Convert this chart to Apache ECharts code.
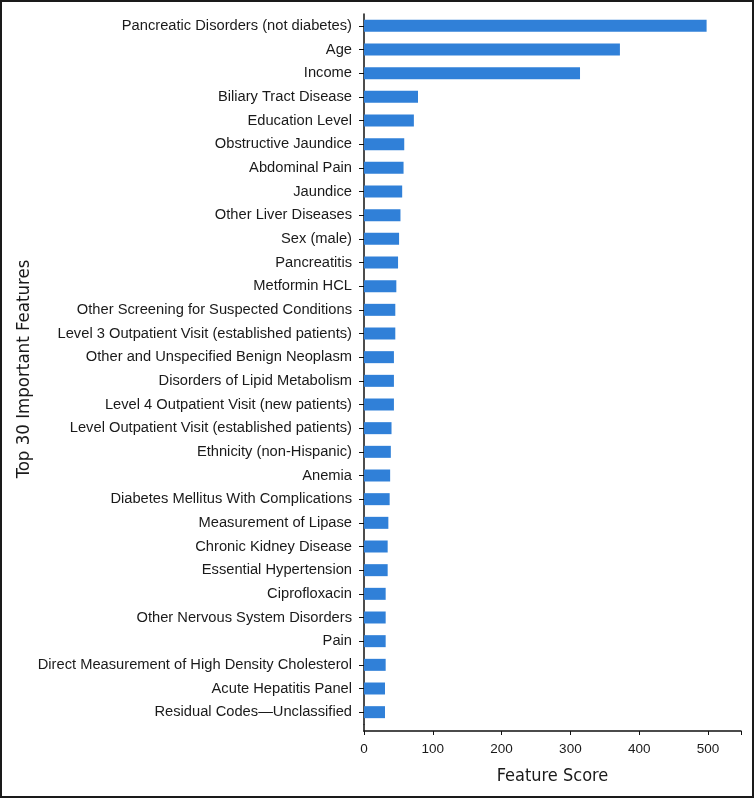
<!DOCTYPE html>
<html>
<head>
<meta charset="utf-8">
<script src="https://cdn.jsdelivr.net/npm/echarts@6/dist/echarts.min.js"></script>
<style>
html,body{margin:0;padding:0;background:#fff;}
#c{width:754px;height:798px;}
</style>
</head>
<body>
<div id="c"></div>
<script>
const categories = [
  "Pancreatic Disorders (not diabetes)",
  "Age",
  "Income",
  "Biliary Tract Disease",
  "Education Level",
  "Obstructive Jaundice",
  "Abdominal Pain",
  "Jaundice",
  "Other Liver Diseases",
  "Sex (male)",
  "Pancreatitis",
  "Metformin HCL",
  "Other Screening for Suspected Conditions",
  "Level 3 Outpatient Visit (established patients)",
  "Other and Unspecified Benign Neoplasm",
  "Disorders of Lipid Metabolism",
  "Level 4 Outpatient Visit (new patients)",
  "Level Outpatient Visit (established patients)",
  "Ethnicity (non-Hispanic)",
  "Anemia",
  "Diabetes Mellitus With Complications",
  "Measurement of Lipase",
  "Chronic Kidney Disease",
  "Essential Hypertension",
  "Ciprofloxacin",
  "Other Nervous System Disorders",
  "Pain",
  "Direct Measurement of High Density Cholesterol",
  "Acute Hepatitis Panel",
  "Residual Codes\u2014Unclassified"
];
const scores = [498, 372, 314, 78.5, 72.5, 58.5, 57.5, 55.5, 53, 51, 49.5, 47, 45.5, 45.5, 43.5, 43.5, 43.5, 40, 39, 38, 37.3, 35.4, 34.4, 34.4, 31.5, 31.5, 31.5, 31.5, 30.5, 30.5];
const xTicks = [0, 100, 200, 300, 400, 500];

const chart = echarts.init(document.getElementById('c'), null, {renderer: 'canvas'});
const textColor = '#1a1a1a';
const font = '"Liberation Sans", Arial, sans-serif';
const condFont = '"DejaVu Sans Condensed", "Liberation Sans Narrow", sans-serif';
chart.setOption({
  animation: false,
  backgroundColor: '#fff',
  grid: {left: 364, right: 13, top: 14, bottom: 74, containLabel: false},
  xAxis: {
    type: 'value', min: 0, max: 548, interval: 100, offset: 7,
    name: 'Feature Score', nameLocation: 'middle', nameGap: 36,
    nameTextStyle: {fontSize: 18, color: textColor, fontFamily: condFont},
    axisLine: {show: true, lineStyle: {color: '#111', width: 1.5}},
    axisTick: {show: true, length: 4, lineStyle: {color: '#111'}},
    axisLabel: {fontSize: 13.5, color: textColor, fontFamily: font, margin: 11,
      formatter: v => xTicks.includes(v) ? String(v) : ''},
    splitLine: {show: false}
  },
  yAxis: {
    type: 'category', data: categories, inverse: true,
    name: 'Top 30 Important Features', nameLocation: 'middle', nameGap: 330,
    nameTextStyle: {fontSize: 18.5, color: textColor, fontFamily: condFont},
    axisLine: {show: true, lineStyle: {color: '#111', width: 1.5}},
    axisTick: {show: true, alignWithLabel: true, length: 5, lineStyle: {color: '#111'}},
    axisLabel: {fontSize: 14.7, color: textColor, fontFamily: font, margin: 12, interval: 0}
  },
  series: [{
    type: 'bar', data: scores, barWidth: 12,
    itemStyle: {color: '#3080d8'}
  }]
});
const p0 = chart.convertToPixel({gridIndex: 0}, [0, categories.length - 1]);
const gridBottom = 798 - 74;
chart.setOption({
  graphic: [
    {type: 'rect', shape: {x: 1, y: 1, width: 752, height: 796}, style: {fill: 'none', stroke: '#1a1a1a', lineWidth: 2}, silent: true},
    {type: 'line', shape: {x1: p0[0], y1: gridBottom, x2: p0[0], y2: gridBottom + 7.75}, style: {stroke: '#111', lineWidth: 1.5}, silent: true}
  ]
});
</script>
</body>
</html>
